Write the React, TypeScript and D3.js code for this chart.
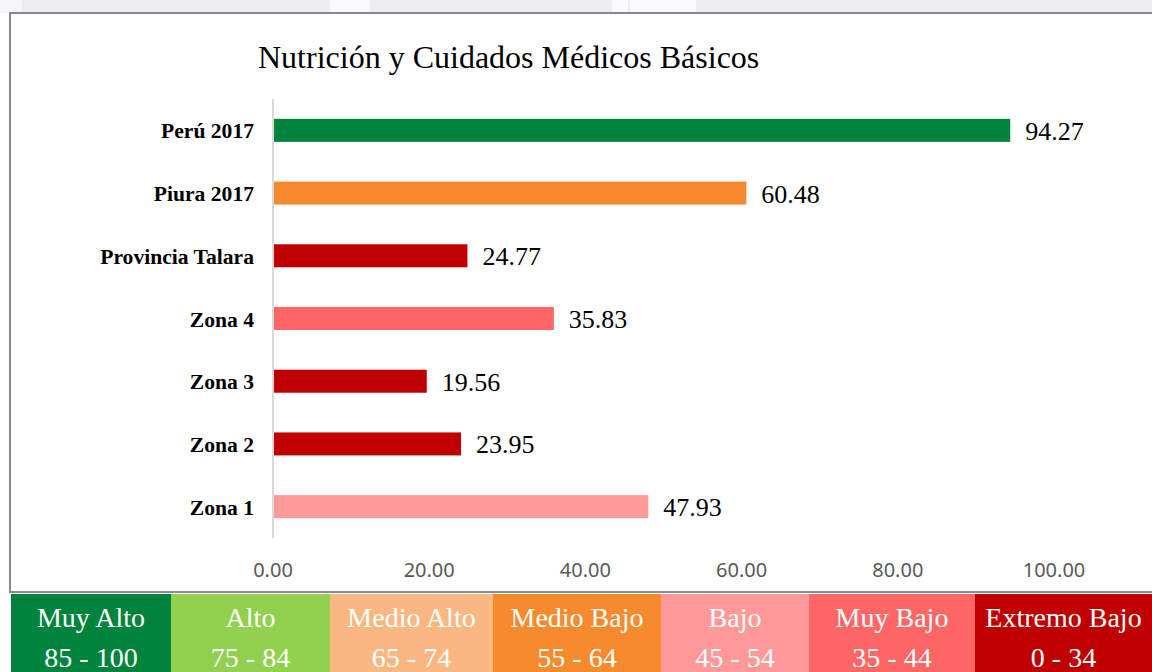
import * as d3 from "d3";

const categories = ["Perú 2017", "Piura 2017", "Provincia Talara", "Zona 4", "Zona 3", "Zona 2", "Zona 1"];
const values = [94.27, 60.48, 24.77, 35.83, 19.56, 23.95, 47.93];
const xTicks = [0, 20, 40, 60, 80, 100];

// leyenda de niveles
const levelNames = ["Muy Alto", "Alto", "Medio Alto", "Medio Bajo", "Bajo", "Muy Bajo", "Extremo Bajo"];
const levelRanges = ["85 - 100", "75 - 84", "65 - 74", "55 - 64", "45 - 54", "35 - 44", "0 - 34"];
const levelMins = [85, 75, 65, 55, 45, 35, 0];
const levelColors = ["#00843d", "#92d050", "#f9b882", "#f58b2e", "#ff9999", "#ff6666", "#c00000"];
const levelEdges = [11, 171, 330, 493, 661, 809, 975, 1152];

const W = 1152;
const H = 672;
const serif = "'Liberation Serif', 'Times New Roman', serif";

function colorFor(v: number) {
  const i = levelMins.findIndex((m) => v >= m);
  return levelColors[i];
}

export default function App() {
  const x = d3.scaleLinear().domain([0, 100]).range([274, 1055]);
  const y = d3
    .scaleBand<string>()
    .domain(categories)
    .range([99, 538])
    .paddingInner(0.633)
    .paddingOuter(0.3165);

  const bh = y.bandwidth();

  return (
    <svg width={W} height={H} style={{ position: "absolute", left: 0, top: 0 }}>
      {/* franja de fondo gris arriba */}
      <rect x={0} y={0} width={W} height={13} fill="#eceef1" />
      <rect x={0} y={0} width={22} height={13} fill="#f4f6f8" />
      <rect x={330} y={0} width={40} height={13} fill="#f7f9fb" />
      <rect x={612} y={0} width={16} height={13} fill="#f7f9fb" />
      <rect x={630} y={0} width={66} height={13} fill="#f8fafc" />

      <rect x={0} y={13} width={W} height={H - 13} fill="#fff" />
      <rect x={10} y={13} width={W + 20} height={579} fill="#fff" stroke="#8a8a8a" strokeWidth={2} />

      <text x={258} y={68} fontFamily={serif} fontSize={32} fill="#000">
        Nutrición y Cuidados Médicos Básicos
      </text>

      <line x1={273} x2={273} y1={99} y2={538} stroke="#d9d9d9" strokeWidth={2} />

      {categories.map((c, i) => {
        const yc = (y(c) as number) + bh / 2;
        return (
          <g key={c}>
            <rect x={x(0)} y={y(c)} width={x(values[i]) - x(0)} height={bh} fill={colorFor(values[i])} />
            <text
              x={254}
              y={yc + 8}
              textAnchor="end"
              fontFamily={serif}
              fontWeight="bold"
              fontSize={21.6}
              fill="#000"
            >
              {c}
            </text>
            <text x={x(values[i]) + 15} y={yc + 9.5} fontFamily={serif} fontSize={26} fill="#000">
              {d3.format(".2f")(values[i])}
            </text>
          </g>
        );
      })}

      {xTicks.map((t) => (
        <text
          key={t}
          x={x(t) - 1}
          y={577}
          textAnchor="middle"
          fontFamily="'Noto Sans', sans-serif"
          fontSize={20}
          fill="#595959"
        >
          {d3.format(".2f")(t)}
        </text>
      ))}

      {levelNames.map((n, i) => {
        const x0 = levelEdges[i];
        const x1 = levelEdges[i + 1];
        const cx = (x0 + x1) / 2;
        return (
          <g key={n}>
            <rect x={x0} y={594} width={x1 - x0} height={H - 594} fill={levelColors[i]} />
            <text x={cx} y={627} textAnchor="middle" fontFamily={serif} fontSize={28} fill="#fff">
              {n}
            </text>
            <text x={cx} y={667} textAnchor="middle" fontFamily={serif} fontSize={28} fill="#fff">
              {levelRanges[i]}
            </text>
          </g>
        );
      })}
    </svg>
  );
}
